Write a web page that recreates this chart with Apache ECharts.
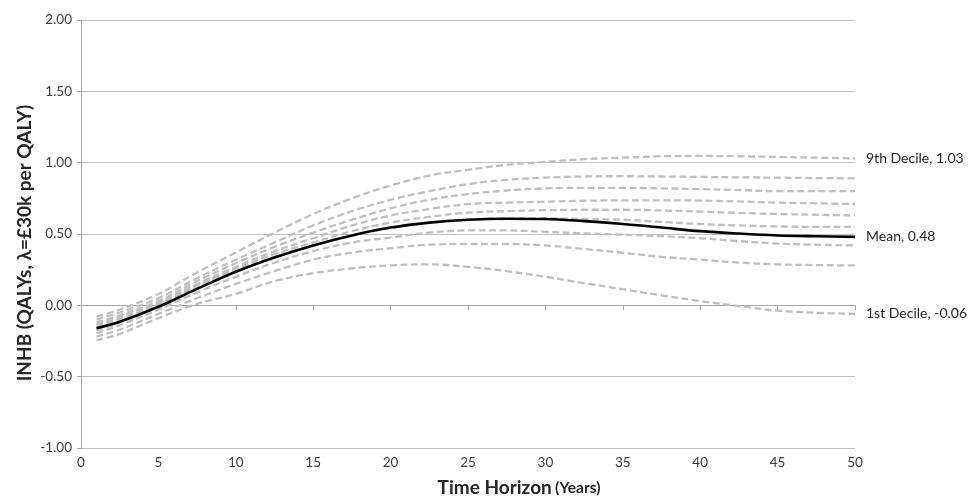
<!DOCTYPE html>
<html><head><meta charset="utf-8">
<script src="https://cdn.jsdelivr.net/npm/echarts@6/dist/echarts.min.js"></script>
<style>html,body{margin:0;padding:0;background:#fff}#c{width:968px;height:502px}</style>
</head><body><div id="c"></div>
<script>
const years   = [1, 2.5, 5, 7.5, 10, 12.5, 15, 17.5, 20, 22.5, 25, 27.5, 30, 32.5, 35, 37.5, 40, 42.5, 45, 47.5, 50];
const decile9 = [-0.08, -0.03, 0.08, 0.23, 0.37, 0.51, 0.64, 0.75, 0.84, 0.91, 0.95, 0.985, 1.005, 1.025, 1.035, 1.045, 1.047, 1.045, 1.04, 1.035, 1.03];
const decile8 = [-0.10, -0.05, 0.05, 0.19, 0.32, 0.44, 0.56, 0.66, 0.74, 0.80, 0.85, 0.88, 0.895, 0.903, 0.905, 0.903, 0.90, 0.897, 0.895, 0.892, 0.89];
const decile7 = [-0.12, -0.07, 0.03, 0.17, 0.295, 0.41, 0.51, 0.60, 0.68, 0.74, 0.78, 0.805, 0.82, 0.824, 0.824, 0.82, 0.815, 0.808, 0.80, 0.80, 0.80];
const decile6 = [-0.135, -0.08, 0.02, 0.15, 0.27, 0.38, 0.47, 0.56, 0.63, 0.675, 0.71, 0.72, 0.727, 0.733, 0.736, 0.736, 0.734, 0.728, 0.72, 0.715, 0.71];
const decile5 = [-0.15, -0.095, 0.005, 0.14, 0.255, 0.36, 0.44, 0.52, 0.58, 0.62, 0.65, 0.66, 0.667, 0.67, 0.67, 0.665, 0.657, 0.648, 0.64, 0.635, 0.63];
const decile4 = [-0.175, -0.12, -0.01, 0.125, 0.24, 0.34, 0.42, 0.49, 0.54, 0.58, 0.60, 0.61, 0.61, 0.605, 0.60, 0.585, 0.57, 0.56, 0.553, 0.55, 0.55];
const decile3 = [-0.195, -0.14, -0.03, 0.09, 0.20, 0.30, 0.38, 0.44, 0.475, 0.51, 0.525, 0.525, 0.515, 0.505, 0.495, 0.485, 0.47, 0.45, 0.433, 0.425, 0.42];
const decile2 = [-0.22, -0.17, -0.06, 0.05, 0.15, 0.24, 0.32, 0.37, 0.40, 0.425, 0.43, 0.43, 0.42, 0.395, 0.368, 0.34, 0.32, 0.30, 0.287, 0.282, 0.28];
const decile1 = [-0.245, -0.20, -0.09, 0.01, 0.08, 0.17, 0.225, 0.26, 0.28, 0.287, 0.27, 0.24, 0.20, 0.155, 0.113, 0.07, 0.03, -0.005, -0.037, -0.052, -0.06];
const meanVals= [-0.16, -0.115, -0.01, 0.115, 0.235, 0.335, 0.42, 0.49, 0.545, 0.58, 0.60, 0.607, 0.605, 0.59, 0.57, 0.545, 0.52, 0.503, 0.49, 0.484, 0.48];
const yTicks = [-1.0, -0.5, 0.0, 0.5, 1.0, 1.5, 2.0];
const xTicks = [0, 5, 10, 15, 20, 25, 30, 35, 40, 45, 50];

const deciles = [
  {name: '9th Decile', vals: decile9, label: '9th Decile, 1.03'},
  {name: '8th Decile', vals: decile8},
  {name: '7th Decile', vals: decile7},
  {name: '6th Decile', vals: decile6},
  {name: '5th Decile', vals: decile5},
  {name: '4th Decile', vals: decile4},
  {name: '3rd Decile', vals: decile3},
  {name: '2nd Decile', vals: decile2},
  {name: '1st Decile', vals: decile1, label: '1st Decile, -0.06'}
];
const pair = v => years.map((y, i) => [y, v[i]]);
const FONT = 'Lato';
const endLbl = txt => ({show: true, formatter: txt, distance: 11, color: '#262626', fontFamily: FONT, fontSize: 14});
const series = deciles.map(d => ({
  name: d.name, type: 'line', smooth: 0.35, symbol: 'none',
  data: pair(d.vals),
  lineStyle: {color: '#bfbfbf', width: 2.3, type: [7, 3.5]},
  endLabel: d.label ? endLbl(d.label) : {show: false},
  z: 2
}));
series.push({
  name: 'Mean', type: 'line', smooth: 0.35, symbol: 'none',
  data: pair(meanVals),
  lineStyle: {color: '#000', width: 2.6},
  endLabel: endLbl('Mean, 0.48'),
  z: 3
});

const chart = echarts.init(document.getElementById('c'), null, {renderer: 'canvas'});
chart.setOption({
  animation: false,
  backgroundColor: '#fff',
  grid: {left: 81, right: 113, top: 20, bottom: 50, containLabel: false},
  xAxis: {
    type: 'value', min: 0, max: 50, interval: 5,
    axisLine: {show: true, lineStyle: {color: '#a6a6a6', width: 1}},
    axisTick: {show: true, length: 5, lineStyle: {color: '#a6a6a6'}},
    axisLabel: {color: '#404040', fontFamily: FONT, fontSize: 13.5, margin: 8,
      formatter: v => xTicks.includes(v) ? String(v) : ''},
    splitLine: {show: false},
    name: '{a|Time Horizon} {b|(Years)}', nameLocation: 'middle', nameGap: 30,
    nameTextStyle: {padding: [0, 0, 0, 102], rich: {
      a: {fontFamily: FONT, fontWeight: 'bold', fontSize: 19, color: '#262626'},
      b: {fontFamily: FONT, fontWeight: 'bold', fontSize: 15.5, color: '#262626'}
    }}
  },
  yAxis: {
    type: 'value', min: -1, max: 2, interval: 0.5,
    axisLine: {show: true, lineStyle: {color: '#a6a6a6', width: 1}},
    axisTick: {show: true, length: 4, lineStyle: {color: '#a6a6a6'}},
    axisLabel: {color: '#404040', fontFamily: FONT, fontSize: 13.5, margin: 9,
      formatter: v => yTicks.some(t => Math.abs(t - v) < 1e-9) ? v.toFixed(2) : ''},
    splitLine: {show: true, lineStyle: {color: '#bfbfbf', width: 1}}
  },
  graphic: [{
    type: 'text', x: 25, y: 243, rotation: Math.PI / 2,
    style: {text: 'INHB (QALYs, λ=£30k per QALY)', font: 'bold 19px Lato', fill: '#262626',
      align: 'center', verticalAlign: 'middle', textAlign: 'center', textVerticalAlign: 'middle'}
  }],
  series: series
});
</script>
</body></html>
